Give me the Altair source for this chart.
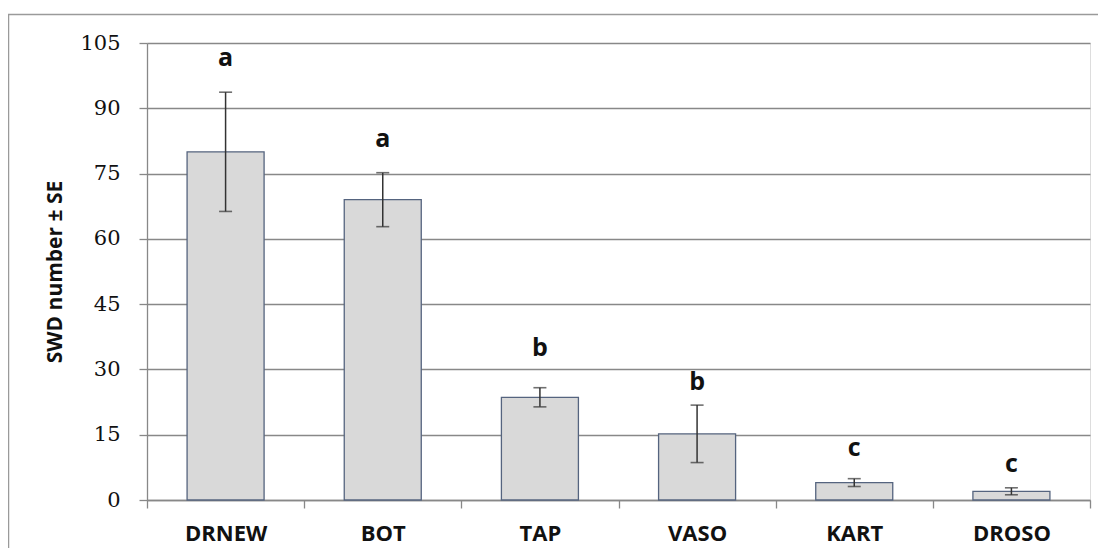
import altair as alt
import pandas as pd

categories = ["DRNEW", "BOT", "TAP", "VASO", "KART", "DROSO"]
means = [80.0, 69.0, 23.6, 15.2, 4.0, 2.0]
se = [13.7, 6.2, 2.2, 6.6, 0.9, 0.8]
letters = ["a", "a", "b", "b", "c", "c"]
letter_y = [101.5, 83.0, 35.0, 27.0, 12.0, 8.3]
y_ticks = [0, 15, 30, 45, 60, 75, 90, 105]

df = pd.DataFrame({
    "cat": categories,
    "mean": means,
    "lo": [m - s for m, s in zip(means, se)],
    "hi": [m + s for m, s in zip(means, se)],
    "letter": letters,
    "ly": letter_y,
})

W, H = 943, 457
GRID = "#888888"

xenc = alt.X("cat:N", sort=categories, title=None,
             scale=alt.Scale(paddingInner=0, paddingOuter=0),
             axis=alt.Axis(labelAngle=0, tickBand="extent", tickSize=8,
                           tickColor=GRID, domainColor=GRID, tickWidth=1.3,
                           domainWidth=1.3, labelFont="Open Sans",
                           labelFontWeight="bold", labelFontSize=22,
                           labelColor="#111", labelPadding=15, grid=False))
yscale = alt.Scale(domain=[0, 105], nice=False)

base = alt.Chart(df)

frame = base.mark_rect(fill=None, stroke="#9a9a9a", strokeWidth=1.5).encode(
    x=alt.value(-138.5), x2=alt.value(W + 40),
    y=alt.value(-28.5), y2=alt.value(H + 80)
).transform_filter(alt.datum.cat == "DRNEW")

bars = base.mark_bar(width=alt.RelativeBandSize(0.49), fill="#d9d9d9",
                     stroke="#55647f", strokeWidth=1.3).encode(
    x=xenc,
    y=alt.Y("mean:Q", scale=yscale,
            title="SWD number ± SE",
            axis=alt.Axis(values=y_ticks, grid=True, gridColor=GRID,
                          gridWidth=1.3, domainColor=GRID, domainWidth=1.3,
                          tickColor=GRID, tickWidth=1.3, tickSize=8,
                          labelFont="DejaVu Serif", labelFontSize=21,
                          labelColor="#111", labelPadding=19,
                          titleFont="Open Sans", titleFontWeight="bold",
                          titleFontSize=21, titleColor="#111",
                          titlePadding=14)),
)

err = base.mark_rule(color="#333333", strokeWidth=1.5).encode(
    x=alt.X("cat:N", sort=categories), y="lo:Q", y2="hi:Q")
cap_hi = base.mark_tick(color="#333333", size=13, thickness=1.6).encode(
    x=alt.X("cat:N", sort=categories), y="hi:Q")
cap_lo = base.mark_tick(color="#333333", size=13, thickness=1.6).encode(
    x=alt.X("cat:N", sort=categories), y="lo:Q")

labels = base.mark_text(font="Open Sans", fontWeight="bold", fontSize=25,
                        color="#111", baseline="middle").encode(
    x=alt.X("cat:N", sort=categories), y="ly:Q", text="letter:N")

chart = alt.layer(frame, bars, err, cap_hi, cap_lo, labels).properties(
    width=W, height=H,
    autosize=alt.AutoSizeParams(type="none"),
    padding={"left": 139, "top": 35, "right": 8, "bottom": 48},
).configure_view(stroke=None).configure(background="white")

chart.save("out.html", embed_options={"renderer": "svg", "actions": False})
